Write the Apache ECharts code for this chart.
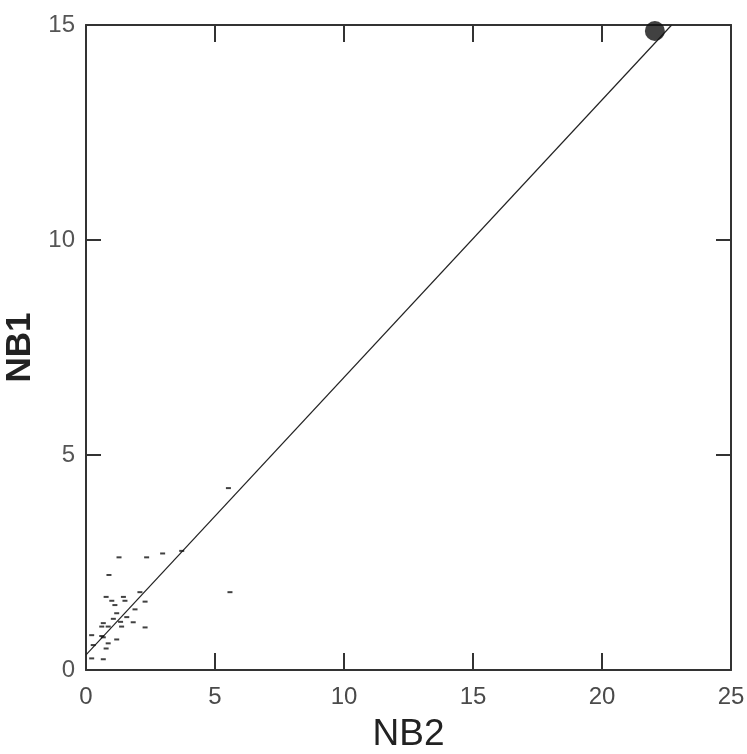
<!DOCTYPE html>
<html>
<head>
<meta charset="utf-8">
<script src="https://cdn.jsdelivr.net/npm/echarts@6/dist/echarts.min.js"></script>
<style>
html,body{margin:0;padding:0;background:#fff;}
#chart{width:747px;height:754px;}
</style>
</head>
<body>
<div id="chart"></div>
<script>
// NB2 (x) values of the small points
var nb2Values = [1.28, 2.35, 2.97, 3.71, 0.89, 2.09, 0.78, 1.45, 1.00, 1.51, 2.29, 1.12, 1.90, 1.19, 1.58, 1.06, 1.34, 1.83, 0.67, 0.61, 0.86, 1.38, 2.29, 0.22, 0.61, 0.67, 1.19, 0.28, 0.86, 0.78, 0.22, 0.67, 5.58, 5.52];
// NB1 (y) values of the small points
var nb1Values = [2.62, 2.62, 2.71, 2.77, 2.21, 1.81, 1.70, 1.70, 1.61, 1.61, 1.59, 1.51, 1.41, 1.32, 1.23, 1.19, 1.12, 1.11, 1.09, 1.01, 1.01, 1.01, 0.99, 0.81, 0.79, 0.76, 0.71, 0.58, 0.62, 0.50, 0.27, 0.25, 1.81, 4.23];
// large highlighted point
var bigPointX = [22.05];
var bigPointY = [14.86];
// fitted line end points
var fitLineX = [0, 22.7];
var fitLineY = [0.35, 15];
// axis ticks
var xTicks = [0, 5, 10, 15, 20, 25];
var yTicks = [0, 5, 10, 15];

function zip(a, b) { return a.map(function (v, i) { return [v, b[i]]; }); }

var chart = echarts.init(document.getElementById('chart'), null, {renderer: 'canvas'});
var font = '"Liberation Sans",Arial,sans-serif';
var axisColor = '#333';
function mkX(pos, showLabel) {
  return {
    type: 'value', position: pos, min: xTicks[0], max: xTicks[xTicks.length - 1], interval: 5,
    axisLine: {show: true, onZero: false, lineStyle: {color: axisColor, width: 2}},
    axisTick: {show: true, inside: true, length: 17, lineStyle: {color: axisColor, width: 2}},
    splitLine: {show: false},
    axisLabel: {show: showLabel, color: '#4a4a4a', fontSize: 24, fontFamily: font, margin: 15},
    name: showLabel ? 'NB2' : '', nameLocation: 'middle', nameGap: 46,
    nameTextStyle: {color: '#222', fontSize: 37, fontFamily: font}
  };
}
function mkY(pos, showLabel) {
  return {
    type: 'value', position: pos, min: yTicks[0], max: yTicks[yTicks.length - 1], interval: 5,
    axisLine: {show: true, onZero: false, lineStyle: {color: axisColor, width: 2}},
    axisTick: {show: true, inside: true, length: 15, lineStyle: {color: axisColor, width: 2}},
    splitLine: {show: false},
    axisLabel: {show: showLabel, color: '#555', fontSize: 24, fontFamily: font, margin: 11},
    name: showLabel ? 'NB1' : '', nameLocation: 'middle', nameGap: 44, nameRotate: 90,
    nameTextStyle: {color: '#222', fontSize: 35, fontWeight: 'bold', fontFamily: font}
  };
}
chart.setOption({
  animation: false,
  backgroundColor: '#fff',
  grid: {left: 86, right: 16, top: 25, bottom: 84, containLabel: false, outerBoundsMode: 'none'},
  xAxis: [mkX('bottom', true), mkX('top', false)],
  yAxis: [mkY('left', true), mkY('right', false)],
  series: [
    {type: 'line', data: zip(fitLineX, fitLineY), showSymbol: false, symbol: 'none',
     lineStyle: {color: '#222', width: 1.2}, z: 2},
    {type: 'scatter', data: zip(nb2Values, nb1Values), symbol: 'rect', symbolSize: [5, 2],
     itemStyle: {color: '#111'}, z: 3},
    {type: 'scatter', data: zip(bigPointX, bigPointY), symbol: 'circle', symbolSize: 20,
     itemStyle: {color: '#111'}, z: 4}
  ]
});
</script>
</body>
</html>
